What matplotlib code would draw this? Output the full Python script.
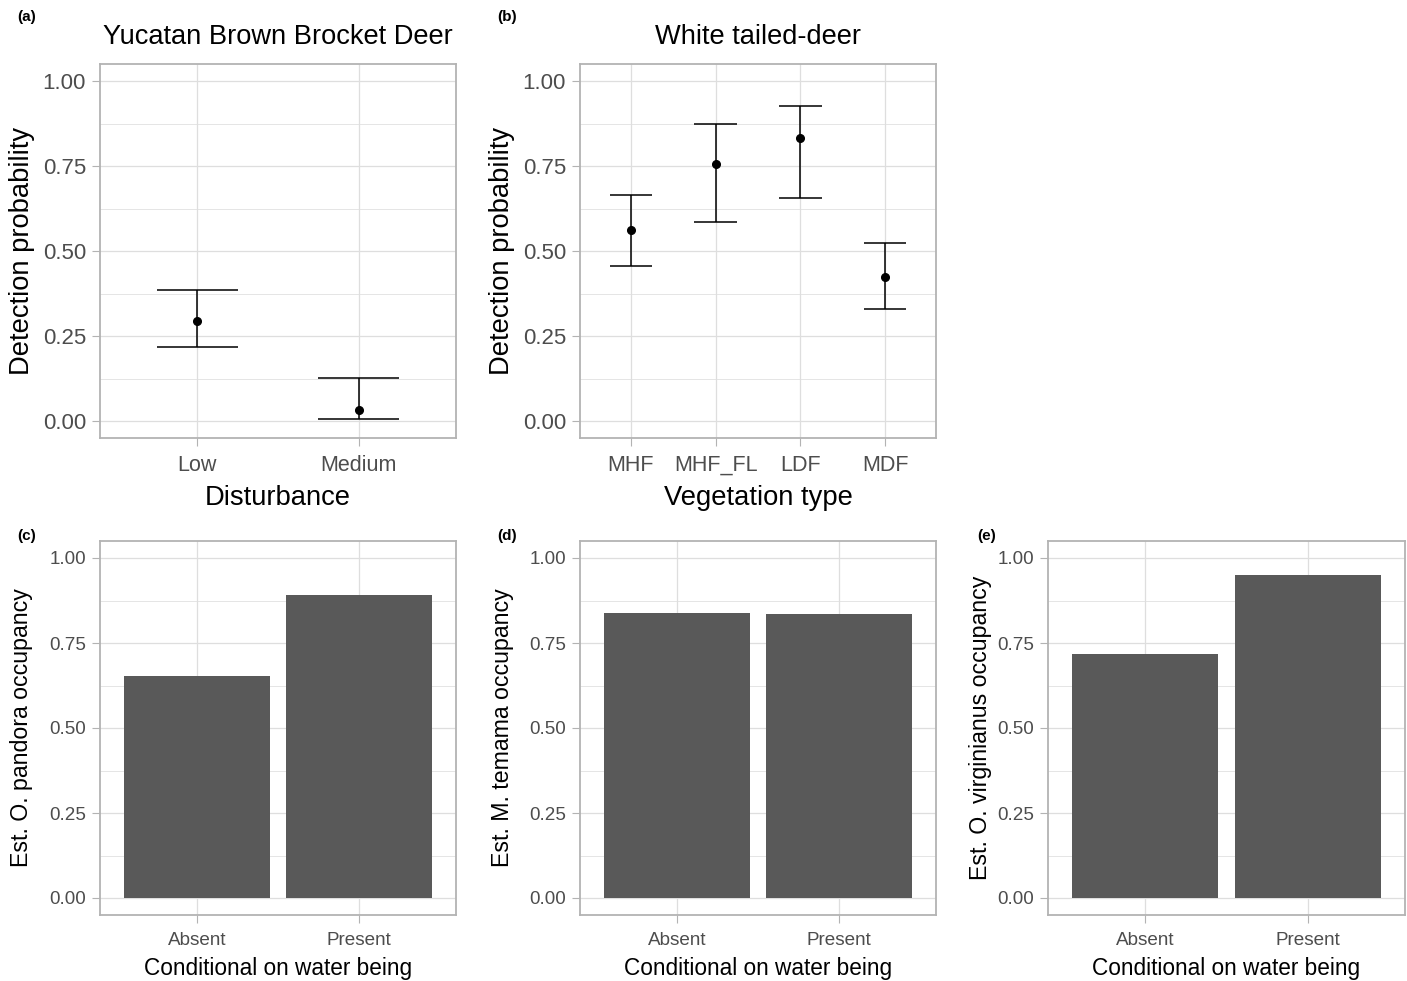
import matplotlib
matplotlib.use("Agg")
import matplotlib.pyplot as plt
import numpy as np

plt.rcParams['font.family'] = ['Liberation Sans', 'DejaVu Sans']

# ---- data ----
dist_cats = ["Low", "Medium"]
dist_est = [0.294, 0.031]
dist_lo = [0.218, 0.007]
dist_hi = [0.386, 0.126]

veg_cats = ["MHF", "MHF_FL", "LDF", "MDF"]
veg_est = [0.563, 0.756, 0.832, 0.424]
veg_lo = [0.456, 0.586, 0.656, 0.329]
veg_hi = [0.665, 0.874, 0.927, 0.525]

water_cats = ["Absent", "Present"]
occ_pandora = [0.653, 0.892]
occ_temama = [0.839, 0.835]
occ_virginianus = [0.719, 0.949]

W, H = 1407, 981
fig = plt.figure(figsize=(W / 100, H / 100), dpi=100)
fig.patch.set_facecolor("white")

GRID = "#DEDEDE"
BORDER = "#B3B3B3"
TICKTXT = "#4D4D4D"


def make_ax(l, t, r, b):
    return fig.add_axes([l / W, 1 - b / H, (r - l) / W, (b - t) / H])


def style(ax, ncat, tick_fs):
    ax.set_ylim(-0.05, 1.05)
    ax.set_xlim(0.4, ncat + 0.6)
    ax.set_yticks([0, 0.25, 0.5, 0.75, 1.0])
    ax.set_yticklabels(["0.00", "0.25", "0.50", "0.75", "1.00"])
    ax.set_yticks([0.125, 0.375, 0.625, 0.875], minor=True)
    ax.grid(True, which="major", color=GRID, linewidth=0.9)
    ax.grid(True, which="minor", axis="y", color=GRID, linewidth=0.55)
    ax.set_axisbelow(True)
    for s in ax.spines.values():
        s.set_color(BORDER)
        s.set_linewidth(1.3)
    ax.tick_params(which="major", length=5.5, width=0.8, color=BORDER,
                   labelsize=tick_fs, labelcolor=TICKTXT, pad=4.5)
    ax.tick_params(which="minor", length=0)


def pointrange(ax, cats, est, lo, hi):
    x = np.arange(1, len(cats) + 1)
    est = np.array(est); lo = np.array(lo); hi = np.array(hi)
    ax.vlines(x, lo, hi, color="black", linewidth=1.1, zorder=3)
    ax.hlines(lo, x - 0.25, x + 0.25, color="black", linewidth=1.1, zorder=3)
    ax.hlines(hi, x - 0.25, x + 0.25, color="black", linewidth=1.1, zorder=3)
    ax.plot(x, est, "o", color="black", markersize=5.5, zorder=4)
    ax.set_xticks(x)
    ax.set_xticklabels(cats)


def bars(ax, cats, vals):
    x = np.arange(1, len(cats) + 1)
    ax.bar(x, vals, width=0.9, color="#595959", zorder=2)
    ax.set_xticks(x)
    ax.set_xticklabels(cats)


# (a)
ax_a = make_ax(100, 64, 456, 438)
pointrange(ax_a, dist_cats, dist_est, dist_lo, dist_hi)
style(ax_a, 2, 15.5)
ax_a.tick_params(axis="y", labelsize=16)
ax_a.tick_params(axis="x", pad=6.5)

# (b)
ax_b = make_ax(580, 64, 936, 438)
pointrange(ax_b, veg_cats, veg_est, veg_lo, veg_hi)
style(ax_b, 4, 15.5)
ax_b.tick_params(axis="y", labelsize=16)
ax_b.tick_params(axis="x", pad=6.5)

# (c)(d)(e)
ax_c = make_ax(100, 541, 456, 915)
bars(ax_c, water_cats, occ_pandora)
style(ax_c, 2, 13.6)
ax_c.tick_params(axis="x", pad=6.5)

ax_d = make_ax(580, 541, 936, 915)
bars(ax_d, water_cats, occ_temama)
style(ax_d, 2, 13.6)
ax_d.tick_params(axis="x", pad=6.5)

ax_e = make_ax(1048, 541, 1405, 915)
bars(ax_e, water_cats, occ_virginianus)
style(ax_e, 2, 13.6)
ax_e.tick_params(axis="x", pad=6.5)


def ftext(x, y, s, **kw):
    fig.text(x / W, 1 - y / H, s, **kw)


# titles
ftext(278, 43.5, "Yucatan Brown Brocket Deer", ha="center", va="baseline", fontsize=19.6)
ftext(758, 43.5, "White tailed-deer", ha="center", va="baseline", fontsize=19.6)

# top axis titles
ftext(278, 505, "Disturbance", ha="center", va="baseline", fontsize=19.7)
ftext(758, 505, "Vegetation type", ha="center", va="baseline", fontsize=19.7)
ftext(22, 251, "Detection probability", ha="center", va="center", rotation=90, fontsize=19.7)
ftext(502, 251, "Detection probability", ha="center", va="center", rotation=90, fontsize=19.7)

# bottom axis titles
ftext(278, 975, "Conditional on water being", ha="center", va="baseline", fontsize=16.3)
ftext(758, 975, "Conditional on water being", ha="center", va="baseline", fontsize=16.3)
ftext(1226, 975, "Conditional on water being", ha="center", va="baseline", fontsize=16.3)
ftext(22, 728, "Est. O. pandora occupancy", ha="center", va="center", rotation=90, fontsize=16.7)
ftext(502, 728, "Est. M. temama occupancy", ha="center", va="center", rotation=90, fontsize=16.7)
ftext(980, 728, "Est. O. virginianus occupancy", ha="center", va="center", rotation=90, fontsize=16.7)

# panel tags
for x, y, s in [(17, 17, "(a)"), (497, 17, "(b)"), (17, 536, "(c)"),
                (497, 536, "(d)"), (977, 536, "(e)")]:
    ftext(x, y, s, ha="left", va="center", fontsize=11, fontweight="bold")

fig.savefig("out.png", dpi=100)
